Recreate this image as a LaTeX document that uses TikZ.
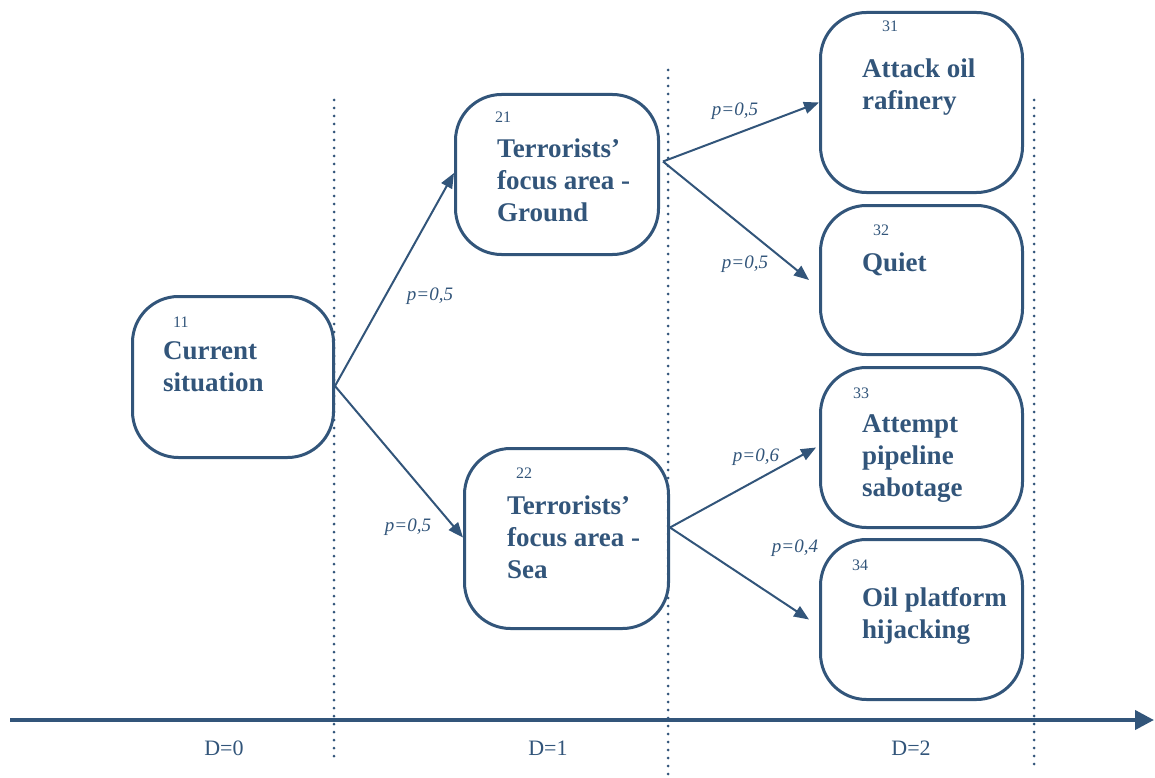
\documentclass[tikz,border=0pt]{standalone}
\usepackage{fontspec}
\setmainfont{Liberation Serif}
\usetikzlibrary{arrows.meta}
\definecolor{nv}{RGB}{50,85,122}
\begin{document}
\begin{tikzpicture}[x=1pt,y=-1pt,
 box/.style={draw=nv, line width=3pt, rounded corners=46pt, anchor=north west, inner sep=0pt},
 num/.style={text=nv, font=\fontsize{16}{18}\selectfont, anchor=base west, inner sep=0pt},
 lbl/.style={text=nv, font=\bfseries\fontsize{27}{32}\selectfont, anchor=north west, inner sep=0pt, align=left},
 prob/.style={text=nv, font=\itshape\fontsize{19}{22}\selectfont, inner sep=0pt},
 dlab/.style={text=nv, font=\fontsize{22}{24}\selectfont, inner sep=0pt},
 arr/.style={draw=nv, line width=2pt, -{Triangle[length=15pt,width=12pt]}},
 sep/.style={draw=nv, line width=3pt, line cap=round, dash pattern=on 0pt off 8pt}]
\useasboundingbox (0,0) rectangle (1155,778);

% separators
\coordinate (s1t) at (334,100); \coordinate (s1b) at (334,757);
\coordinate (s2t) at (668,70);  \coordinate (s2b) at (668,778);
\coordinate (s3t) at (1034,100); \coordinate (s3b) at (1034,765);
\draw[sep] (s1t) -- (s1b);
\draw[sep] (s2t) -- (s2b);
\draw[sep] (s3t) -- (s3b);

% axis
\coordinate (ax0) at (10,720); \coordinate (ax1) at (1154,720);
\draw[draw=nv, line width=4pt, -{Triangle[length=19pt,width=19pt]}] (ax0) -- (ax1);
\node[dlab] (d0) at (224,748) {D=0};
\node[dlab] (d1) at (548,748) {D=1};
\node[dlab] (d2) at (911,748) {D=2};

% boxes
\node[box, minimum width=201pt, minimum height=161pt] (b11) at (131,295) {};
\node[box, minimum width=203pt, minimum height=160pt] (b21) at (454,93) {};
\node[box, minimum width=204pt, minimum height=180pt] (b22) at (463,447) {};
\node[box, minimum width=202pt, minimum height=180pt] (b31) at (819,11) {};
\node[box, minimum width=202pt, minimum height=149pt] (b32) at (819,204) {};
\node[box, minimum width=202pt, minimum height=160pt] (b33) at (819,366) {};
\node[box, minimum width=202pt, minimum height=160pt] (b34) at (819,538) {};

% numbers
\node[num] (n11) at (173,327) {11};
\node[num] (n21) at (495,123) {21};
\node[num] (n22) at (516,478) {22};
\node[num] (n31) at (882,32) {31};
\node[num] (n32) at (873,235) {32};
\node[num] (n33) at (853,398) {33};
\node[num] (n34) at (852,570) {34};

% labels
\node[lbl] (t11) at (163,341) {Current\\situation};
\node[lbl] (t21) at (497,139) {Terrorists’\\focus area -\\Ground};
\node[lbl] (t22) at (507,496) {Terrorists’\\focus area -\\Sea};
\node[lbl] (t31) at (862,59) {Attack oil\\rafinery};
\node[lbl] (t32) at (862,253) {Quiet};
\node[lbl] (t33) at (862,414) {Attempt\\pipeline\\sabotage};
\node[lbl] (t34) at (862,587) {Oil platform\\hijacking};

% connectors
\draw[arr] ([yshift=-9pt]b11.east) -- ([yshift=1.5pt]b21.west);
\draw[arr] ([yshift=-9pt]b11.east) -- ([yshift=1pt]b22.west);
\draw[arr] ([shift={(3pt,13pt)}]b21.east) -- (b31.west);
\draw[arr] ([shift={(3pt,13pt)}]b21.east) -- ([xshift=-10pt]b32.west);
\draw[arr] ([yshift=11pt]b22.east) -- ([xshift=-3pt]b33.west);
\draw[arr] ([yshift=11pt]b22.east) -- ([xshift=-10pt]b34.west);

% probabilities
\node[prob] (p1) at (430,296) {p=0,5};
\node[prob] (p2) at (408,527) {p=0,5};
\node[prob] (p3) at (735,111) {p=0,5};
\node[prob] (p4) at (745,264) {p=0,5};
\node[prob] (p5) at (756,457) {p=0,6};
\node[prob] (p6) at (795,548) {p=0,4};
\end{tikzpicture}
\end{document}
